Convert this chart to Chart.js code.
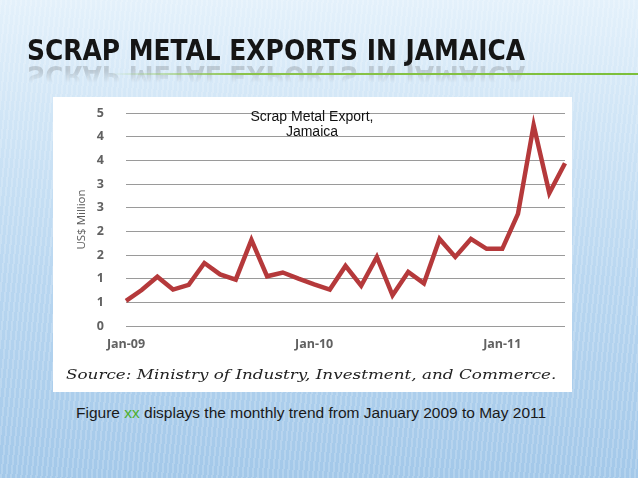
<!DOCTYPE html>
<html>
<head>
<meta charset="utf-8">
<script src="https://cdn.jsdelivr.net/npm/chart.js@4.4.0/dist/chart.umd.min.js"></script>
<style>
  html, body { margin: 0; padding: 0; }
  body {
    width: 638px; height: 478px; position: relative; overflow: hidden;
    background:
      repeating-linear-gradient(96deg, rgba(255,255,255,0.18) 0px, rgba(255,255,255,0.18) 2px, rgba(255,255,255,0) 2px, rgba(255,255,255,0) 5px),
      linear-gradient(180deg, #e4f1fb 0%, #d0e5f6 25%, #b8d6f0 60%, #a3c8e9 100%);
  }
  .slide-title {
    position: absolute; left: 27px; top: 33px; line-height: 34px; height: 34px;
    font-family: "DejaVu Sans", sans-serif; font-stretch: condensed; font-weight: bold;
    font-size: 27.5px; color: #151515; white-space: nowrap; transform-origin: 0 0;
  }
  .slide-title.reflect {
    top: 93px; opacity: 0.18; color: #333;
    -webkit-mask-image: linear-gradient(0deg, rgba(0,0,0,1) 35%, rgba(0,0,0,0) 70%);
  }
  .rule {
    position: absolute; left: 110px; top: 73px; width: 528px; height: 2px;
    background: linear-gradient(90deg, rgba(160,190,120,0) 0%, #8bc34a 25%, #7cbf3a 100%);
  }
  .box {
    position: absolute; left: 53px; top: 97px; width: 519px; height: 295px;
    background: #fff;
  }
  .ctitle {
    position: absolute; left: 212px; top: 109px; width: 200px; text-align: center;
    font-family: "Liberation Sans", Arial, sans-serif; font-size: 14px; line-height: 15px; color: #111;
  }
  .source {
    position: absolute; left: 66px; top: 366px; white-space: nowrap; transform-origin: 0 0;
    font-family: "DejaVu Serif", serif; font-style: italic; font-size: 13.5px; color: #222;
  }
  .caption {
    position: absolute; left: 76px; top: 404px; white-space: nowrap;
    font-family: "Liberation Sans", Arial, sans-serif; font-size: 15.5px; color: #1a1a1a;
  }
  .caption span { color: #4caf2a; }
</style>
</head>
<body>
<div class="slide-title" id="t1">SCRAP METAL EXPORTS IN JAMAICA</div>
<div class="slide-title reflect" id="t2">SCRAP METAL EXPORTS IN JAMAICA</div>
<div class="rule"></div>
<div class="box"><canvas id="scrap" width="519" height="295"></canvas></div>
<div class="ctitle">Scrap Metal Export,<br>Jamaica</div>
<div class="source" id="src">Source: Ministry of Industry, Investment, and Commerce.</div>
<div class="caption">Figure <span>xx</span> displays the monthly trend from January 2009 to May 2011</div>

<script>
// monthly labels, Jan 2009 - May 2011
var months = [
  'Jan-09','Feb-09','Mar-09','Apr-09','May-09','Jun-09','Jul-09','Aug-09','Sep-09','Oct-09','Nov-09','Dec-09',
  'Jan-10','Feb-10','Mar-10','Apr-10','May-10','Jun-10','Jul-10','Aug-10','Sep-10','Oct-10','Nov-10','Dec-10',
  'Jan-11','Feb-11','Mar-11','Apr-11','May-11'
];
// US$ million
var exportValues = [
  0.53, 0.76, 1.04, 0.77, 0.87, 1.33, 1.09, 0.98, 1.82, 1.05, 1.13, 1.0,
  0.88, 0.77, 1.27, 0.85, 1.46, 0.65, 1.14, 0.9, 1.84, 1.46, 1.84, 1.63,
  1.63, 2.37, 4.24, 2.81, 3.44
];
var shownTicks = ['Jan-09', 'Jan-10', 'Jan-11'];

// stretch texts to the widths in the slide
function fitWidth(id, w, flip) {
    var el = document.getElementById(id);
    var s = w / el.offsetWidth;
    el.style.transform = 'scaleX(' + s + ')' + (flip ? ' scaleY(-1)' : '');
}
fitWidth('t1', 498);
fitWidth('t2', 498, true);
fitWidth('src', 490);

var tickFont = { family: 'Open Sans', size: 12.5, weight: 'bold' };

new Chart(document.getElementById('scrap'), {
    type: 'line',
    data: {
        labels: months,
        datasets: [{
            label: 'Scrap Metal Export',
            data: exportValues,
            borderColor: '#b5393b',
            borderWidth: 4.5,
            pointRadius: 0,
            tension: 0,
            borderJoinStyle: 'miter'
        }]
    },
    options: {
        responsive: false,
        animation: false,
        layout: { autoPadding: false, padding: { top: 16, right: 7, bottom: 36, left: 0 } },
        plugins: {
            legend: { display: false },
            tooltip: { enabled: false }
        },
        scales: {
            x: {
                offset: false,
                grid: { display: false },
                border: { display: false },
                ticks: {
                    autoSkip: false,
                    maxRotation: 0,
                    padding: 3,
                    color: '#616161',
                    font: tickFont,
                    callback: function (v, i) {
                        var l = months[i];
                        return shownTicks.indexOf(l) >= 0 ? l : '';
                    }
                },
                afterFit: function (s) { s.height = 30; s.paddingLeft = 0; s.paddingRight = 0; }
            },
            y: {
                min: 0,
                max: 4.5,
                grid: { color: '#9a9a9a', lineWidth: 1, drawTicks: false },
                border: { display: false },
                ticks: {
                    stepSize: 0.5,
                    padding: 22,
                    color: '#616161',
                    font: tickFont,
                    // excel style 0 decimals
                    callback: function (v) { return Math.round(v); }
                },
                title: {
                    display: true,
                    text: 'US$ Million',
                    color: '#5a5a5a',
                    font: { family: 'Open Sans', size: 11.5 },
                    padding: { top: 22, bottom: 0 }
                },
                afterFit: function (s) { s.width = 73; s.paddingTop = 0; s.paddingBottom = 0; }
            }
        }
    }
});
</script>
</body>
</html>
